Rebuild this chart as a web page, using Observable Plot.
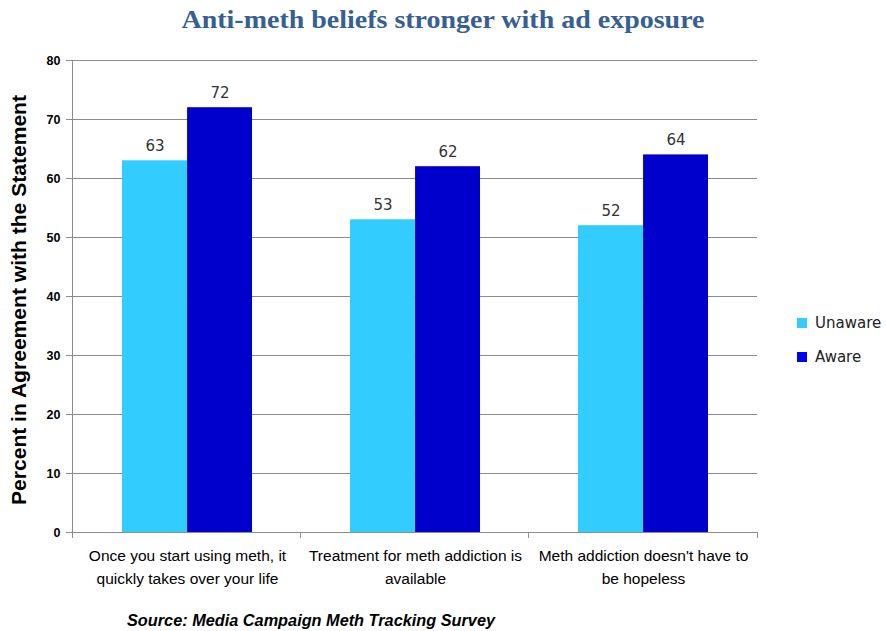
<!DOCTYPE html>
<html>
<head>
<meta charset="utf-8">
<script src="https://cdn.jsdelivr.net/npm/d3@7"></script>
<script src="https://cdn.jsdelivr.net/npm/@observablehq/plot@0.6"></script>
<style>
  body { margin: 0; background: #fff; }
  #chart { width: 886px; height: 631px; }
</style>
</head>
<body>
<div id="chart"></div>
<script>
const categories = [
  "Once you start using meth, it\nquickly takes over your life",
  "Treatment for meth addiction is\navailable",
  "Meth addiction doesn't have to\nbe hopeless"
];
const series = ["Unaware", "Aware"];
const unaware = [63, 53, 52];
const aware = [72, 62, 64];
const yTicks = [0, 10, 20, 30, 40, 50, 60, 70, 80];
const title = "Anti-meth beliefs stronger with ad exposure";
const yLabel = "Percent in Agreement with the Statement";
const source = "Source: Media Campaign Meth Tracking Survey";

const colors = {Unaware: "#33CCFF", Aware: "#0000CC"};
const legendColors = {Unaware: "#33CCFF", Aware: "#0000FF"};

const W = 886, H = 631;
const mL = 72, mR = 129, mT = 60, mB = 99;
const pInner = 0.43, pOuter = 0.215;
const step = (W - mL - mR) / (categories.length - pInner + 2 * pOuter);
const bw = step * (1 - pInner);
const half = bw / 2;

const unawareData = categories.map((c, i) => ({cat: c, v: unaware[i]}));
const awareData = categories.map((c, i) => ({cat: c, v: aware[i]}));

const sans = "'Liberation Sans', Arial, sans-serif";
const gridStroke = "#8c8c8c";

const frameLines = (index, scales, values, dims) => {
  const g = d3.create("svg:g").attr("stroke", gridStroke).attr("shape-rendering", "crispEdges");
  const x0 = dims.marginLeft, x1 = dims.width - dims.marginRight;
  const yb = dims.height - dims.marginBottom;
  g.append("line").attr("x1", x0).attr("x2", x0).attr("y1", dims.marginTop).attr("y2", yb + 6);
  for (let i = 1; i <= categories.length; i++) {
    const x = x0 + i * (x1 - x0) / categories.length;
    g.append("line").attr("x1", x).attr("x2", x).attr("y1", yb).attr("y2", yb + 6);
  }
  return g.node();
};

const plot = Plot.plot({
  width: W,
  height: H,
  marginLeft: mL,
  marginRight: mR,
  marginTop: mT,
  marginBottom: mB,
  style: {background: "#fff", overflow: "visible"},
  x: {domain: categories, paddingInner: pInner, paddingOuter: pOuter, label: null},
  y: {domain: [0, 80], label: null},
  marks: [
    Plot.gridY(yTicks.filter(t => t > 0), {stroke: gridStroke, strokeOpacity: 1}),
    Plot.barY(unawareData, {x: "cat", y: "v", fill: colors.Unaware, insetRight: half}),
    Plot.barY(awareData, {x: "cat", y: "v", fill: colors.Aware, insetLeft: half}),
    Plot.ruleY([0], {stroke: gridStroke}),
    frameLines,
    Plot.text(unawareData, {x: "cat", y: "v", text: d => String(d.v), dx: -half / 2, dy: -15,
      fontSize: 15, fill: "#333", fontFamily: "'DejaVu Sans', sans-serif"}),
    Plot.text(awareData, {x: "cat", y: "v", text: d => String(d.v), dx: half / 2, dy: -15,
      fontSize: 15, fill: "#333", fontFamily: "'DejaVu Sans', sans-serif"}),
    Plot.axisY({ticks: yTicks, tickSize: 6, tickPadding: 6, stroke: gridStroke, label: null,
      fontWeight: "bold", fontSize: 12.5, fontFamily: sans, fill: "#000"}),
    Plot.axisX({tickSize: 0, tickPadding: 13, label: null, fontSize: 15.5, lineHeight: 1.45,
      fontFamily: sans, fill: "#000"})
  ]
});

const svg = d3.select(plot);
svg.append("text")
  .attr("x", 443).attr("y", 28)
  .attr("text-anchor", "middle")
  .attr("font-family", "'Liberation Serif', 'Times New Roman', serif")
  .attr("font-weight", "bold")
  .attr("font-size", 25)
  .attr("textLength", 523)
  .attr("lengthAdjust", "spacingAndGlyphs")
  .attr("fill", "#376092")
  .text(title);

svg.append("text")
  .attr("transform", "translate(26,300) rotate(-90)")
  .attr("text-anchor", "middle")
  .attr("font-family", sans)
  .attr("font-weight", "bold")
  .attr("font-size", 19.5)
  .attr("textLength", 410)
  .attr("lengthAdjust", "spacingAndGlyphs")
  .attr("fill", "#000")
  .text(yLabel);

const legend = svg.append("g").attr("text-anchor", "start");
series.forEach((s, i) => {
  const y = 323 + i * 34;
  legend.append("rect").attr("x", 797).attr("y", y - 5).attr("width", 10).attr("height", 10)
    .attr("fill", legendColors[s]);
  legend.append("text").attr("x", 815).attr("y", y).attr("dy", "0.35em")
    .attr("text-anchor", "start")
    .attr("font-family", "'DejaVu Sans', sans-serif").attr("font-size", 15)
    .attr("fill", "#222").text(s);
});

svg.append("text")
  .attr("x", 127).attr("y", 626)
  .attr("text-anchor", "start")
  .attr("font-family", sans)
  .attr("font-weight", "bold")
  .attr("font-style", "italic")
  .attr("font-size", 16)
  .attr("textLength", 368)
  .attr("lengthAdjust", "spacingAndGlyphs")
  .attr("fill", "#000")
  .text(source);

document.getElementById("chart").appendChild(plot);
</script>
</body>
</html>
